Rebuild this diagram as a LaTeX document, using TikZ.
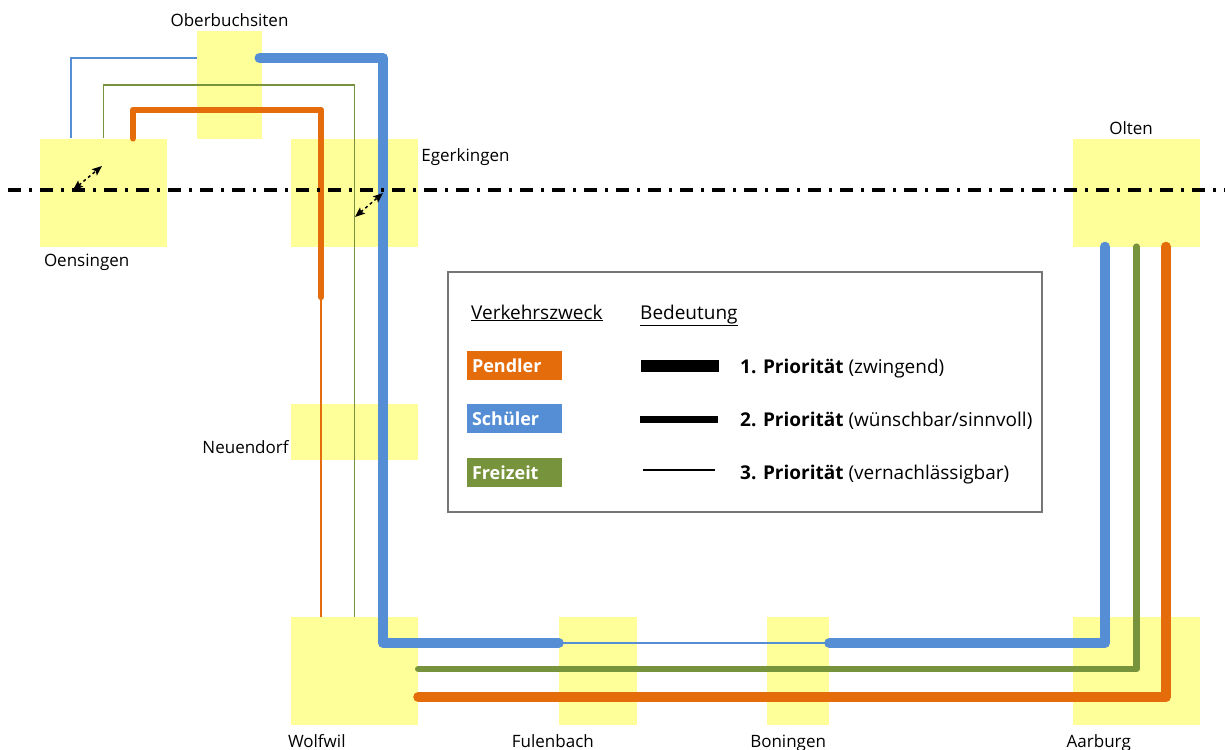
\documentclass[tikz,border=0pt]{standalone}
\usepackage{fontspec}
\setmainfont{Open Sans}
\usetikzlibrary{arrows.meta}
\usetikzlibrary{positioning}
\definecolor{ortgelb}{RGB}{255, 255, 153}
\definecolor{sblau}{RGB}{85, 142, 213}
\definecolor{porange}{RGB}{228, 108, 10}
\definecolor{fgruen}{RGB}{119, 147, 60}
\definecolor{rahmengrau}{RGB}{118, 118, 118}
\tikzset{ort/.style = {fill=ortgelb, inner sep = 0, minimum width = 127, minimum height = 108}}
\tikzset{lbl/.style = {inner sep = 0, font = \fontsize{17}{20}\selectfont}}
\tikzset{legtext/.style = {inner sep = 0, anchor = base west, font = \fontsize{19}{22}\selectfont}}
\tikzset{zweckbox/.style = {text = white, font = \fontsize{18}{21}\selectfont\bfseries,
                            text width = 85, inner sep = 5, minimum height = 29, align = left}}
\tikzset{muster/.style = {fill = black, inner sep = 0, minimum width = 78}}
\tikzset{prioeins/.style = {line width = 10, line cap = round, line join = round}}
\tikzset{priozwei/.style = {line width = 6.5, line cap = round, line join = round}}
\tikzset{priodrei/.style = {line width = 1.5}}
\tikzset{wechsel/.style = {{Stealth[length=10, width=8, inset=2]}-{Stealth[length=10, width=8, inset=2]}, dashed, line width = 1.5}}

\begin{document}
\begin{tikzpicture}[x=1pt, y=-1pt]
    \useasboundingbox (0, 0) rectangle (1225, 749);

    \node [ort, minimum width = 65] (obb) at (229.5, 85) {};
    \node [ort] (oens) at (103.5, 192.5) {};
    \node [ort] (eger) at (354.5, 192.5) {};
    \node [ort, minimum height = 56] (neu) at (354.5, 432) {};
    \node [ort] (wolf) at (354.5, 671) {};
    \node [ort, minimum width = 78] (fulen) at (598, 671) {};
    \node [ort, minimum width = 62] (bon) at (798, 671) {};
    \node [ort] (aar) at (1136.5, 671) {};
    \node [ort] (olten) at (1136.5, 192.5) {};

    \node [draw = rahmengrau, line width = 2, inner sep = 0, minimum width = 594, minimum height = 240] (legende) at (745, 392) {};
    \node [legtext] (zwecktitel) at (471, 319) {\underline{Verkehrszweck}};
    \node [legtext] (bedtitel) at (640, 319) {\underline{Bedeutung}};
    \node [zweckbox, fill = porange] (pendler) at (514.5, 365.5) {Pendler};
    \node [zweckbox, fill = sblau] (schueler) at (514.5, 418.5) {Schüler};
    \node [zweckbox, fill = fgruen] (freizeit) at (514.5, 472.5) {Freizeit};
    \node [muster, minimum height = 12] (mustereins) at (680, 366) {};
    \node [muster, minimum height = 7] (musterzwei) at (679, 419) {};
    \node [muster, minimum height = 1.5, minimum width = 72] (musterdrei) at (679, 470) {};
    \node [legtext] (prioeinstext) at (740, 373) {\textbf{1. Priorität} (zwingend)};
    \node [legtext] (priozweitext) at (740, 426) {\textbf{2. Priorität} (wünschbar/sinnvoll)};
    \node [legtext] (priodreitext) at (740, 479) {\textbf{3. Priorität} (vernachlässigbar)};

    \coordinate (blauknick) at (383, 643);
    \coordinate (pwechsel) at (321, 297);
    \coordinate (achselinks) at (8, 190);
    \coordinate (achserechts) at (1225, 190);

    \draw [sblau, priodrei] ([xshift = -32.5]oens.north) |- ([yshift = 27]obb.west);
    \draw [fgruen, priodrei] (oens.north) |- (obb.west) -| (wolf.north);
    \draw [porange, priozwei] ([xshift = 29.5]oens.north) |- ([yshift = -25]obb.center) -| (pwechsel);
    \draw [porange, priodrei] (pwechsel) -- ([xshift = -33.5]wolf.north);
    \draw [sblau, prioeins] ([xshift = 30, yshift = 27]obb.center) -| (blauknick) -- ([yshift = 28]fulen.west);
    \draw [sblau, priodrei] ([yshift = 28]fulen.west) -- ([yshift = 28]bon.east);
    \draw [sblau, prioeins] ([yshift = 28]bon.east) -| ([xshift = -31.5]olten.south);
    \draw [fgruen, priozwei] ([yshift = 2]wolf.east) -| (olten.south);
    \draw [porange, prioeins] ([yshift = -26]wolf.east) -| ([xshift = 29.5]olten.south);

    \draw [line width = 3.5, dash pattern = on 13 off 8 on 3 off 8] (achselinks) -- (achserechts);
    \draw [wechsel] ([xshift = -30.5, yshift = 2.5]oens.center) -- ([xshift = -1.5, yshift = 26.5]oens.center);
    \draw [wechsel] ([xshift = 0.5, yshift = -24.5]eger.center) -- ([xshift = 28.5, yshift = -0.5]eger.center);

    \node [lbl, anchor = base] (obblbl) at ([yshift = 4]obb.north) {Oberbuchsiten};
    \node [lbl, anchor = base west] (oenslbl) at ([xshift = 4, yshift = -20]oens.south west) {Oensingen};
    \node [lbl, anchor = base west] (egerlbl) at ([xshift = 3, yshift = -23]eger.north east) {Egerkingen};
    \node [lbl, anchor = base] (oltenlbl) at ([xshift = -5.5, yshift = 4]olten.north) {Olten};
    \node [lbl, anchor = base east] (neulbl) at ([xshift = -2, yshift = -21]neu.west) {Neuendorf};
    \node [lbl, anchor = base west] (wolflbl) at ([xshift = -3, yshift = -22]wolf.south west) {Wolfwil};
    \node [lbl, anchor = base east] (fulenlbl) at ([xshift = -4, yshift = -22]fulen.south) {Fulenbach};
    \node [lbl, anchor = base east] (bonlbl) at ([xshift = -3, yshift = -22]bon.south east) {Boningen};
    \node [lbl, anchor = base east] (aarlbl) at ([xshift = -5.5, yshift = -22]aar.south) {Aarburg};
\end{tikzpicture}
\end{document}
